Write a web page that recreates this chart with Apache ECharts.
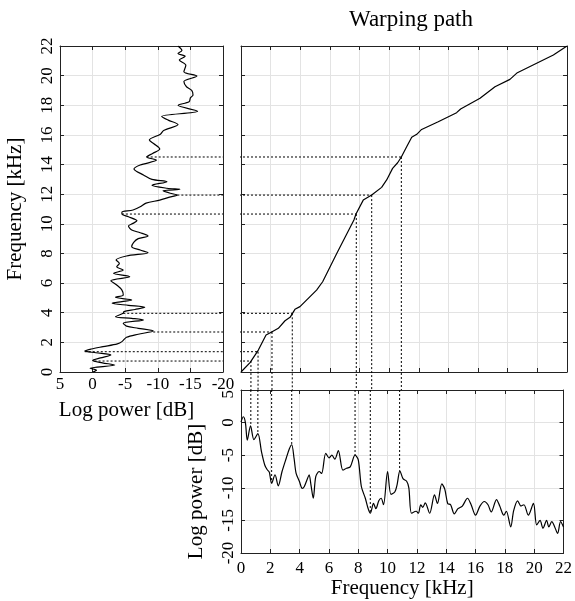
<!DOCTYPE html>
<html><head><meta charset="utf-8">
<script src="https://cdn.jsdelivr.net/npm/echarts@6/dist/echarts.min.js"></script>
<style>html,body{margin:0;padding:0;background:#fff}#c{width:575px;height:601px}</style>
</head><body><div id="c"></div>
<script>
// ---- data ----
const freqTickStep = 2;      // kHz
const powerTickStep = 5;     // dB

// left spectrum (target): frequency [kHz] vs log power [dB]
const leftFreq = [0.00,0.12,0.25,0.47,0.62,0.78,0.95,1.15,1.30,1.42,1.55,1.71,1.90,2.05,2.34,2.55,2.77,2.95,3.10,3.29,3.51,3.62,3.73,3.96,4.07,4.22,4.37,4.50,4.64,4.75,4.86,5.04,5.20,5.53,5.87,6.16,6.43,6.66,6.88,7.10,7.33,7.56,7.83,8.05,8.23,8.45,8.75,9.00,9.18,9.40,9.58,9.85,10.03,10.20,10.48,10.66,10.80,10.93,11.15,11.40,11.60,11.80,11.94,12.06,12.23,12.33,12.40,12.60,12.84,13.00,13.30,13.70,13.97,14.30,14.51,14.75,15.05,15.40,15.65,16.05,16.30,16.70,17.00,17.25,17.60,18.00,18.24,18.50,18.70,19.00,19.25,19.60,19.97,20.26,20.70,21.05,21.30,21.50,21.70,22.00];
const leftPower = [0.0,-0.6,0.4,-3.4,-1.5,0.0,-1.2,-2.8,-0.5,1.2,0.2,-1.6,-3.8,-4.5,-5.2,-7.0,-9.3,-7.0,-5.2,-4.7,-7.8,-6.0,-3.5,-4.7,-4.8,-6.5,-8.0,-5.5,-3.0,-4.5,-6.0,-3.5,-4.7,-4.5,-3.7,-2.8,-5.7,-3.2,-4.7,-3.7,-4.1,-3.6,-5.2,-8.5,-7.3,-6.0,-6.3,-7.0,-8.5,-7.3,-6.0,-5.5,-6.2,-6.8,-5.5,-4.5,-4.5,-6.2,-7.3,-8.2,-10.3,-11.8,-13.0,-11.9,-10.8,-13.4,-11.4,-9.1,-11.4,-9.1,-7.8,-6.35,-7.3,-9.8,-8.3,-9.2,-10.3,-9.4,-8.7,-10.4,-10.9,-13.1,-11.6,-10.6,-16.1,-13.1,-14.8,-15.0,-15.4,-15.2,-14.4,-14.0,-16.0,-14.0,-14.3,-13.3,-14.2,-13.1,-13.7,-13.1];

// bottom spectrum (source): frequency [kHz] vs log power [dB]
const bottomFreq = [0.00,0.16,0.30,0.43,0.65,0.88,1.15,1.40,1.62,1.78,1.93,2.09,2.32,2.54,2.80,3.08,3.30,3.46,3.62,3.76,3.98,4.18,4.32,4.55,4.65,4.77,4.93,5.10,5.33,5.50,5.78,6.00,6.20,6.40,6.64,6.95,7.20,7.45,7.78,8.00,8.21,8.48,8.66,8.82,9.04,9.20,9.40,9.56,9.72,10.00,10.23,10.50,10.65,10.84,11.05,11.30,11.45,11.63,11.95,12.10,12.26,12.40,12.57,12.87,13.20,13.40,13.70,13.90,14.10,14.30,14.55,14.80,15.10,15.45,15.70,16.00,16.30,16.60,16.85,17.07,17.43,17.65,17.93,18.10,18.40,18.60,18.87,19.10,19.30,19.60,19.95,20.17,20.40,20.60,20.85,21.00,21.20,21.40,21.60,21.80,22.00];
const bottomPower = [0.1,0.9,0.0,-2.7,-0.5,-2.6,-1.7,-4.5,-6.5,-7.2,-7.6,-9.3,-8.0,-9.7,-7.5,-5.5,-4.0,-3.4,-5.5,-7.8,-9.0,-10.1,-9.8,-8.5,-8.0,-9.5,-11.6,-8.3,-7.5,-7.8,-4.7,-5.4,-5.0,-5.6,-4.3,-7.3,-7.0,-6.8,-5.0,-5.7,-9.8,-11.6,-13.1,-13.9,-12.4,-13.2,-12.0,-11.6,-12.6,-7.5,-11.0,-10.6,-9.5,-7.4,-8.6,-9.0,-10.0,-13.9,-13.6,-13.9,-12.6,-13.0,-12.3,-13.9,-11.1,-12.4,-9.4,-10.2,-12.4,-12.6,-14.0,-13.2,-12.8,-11.6,-12.6,-14.2,-12.8,-12.1,-12.6,-13.7,-11.8,-12.8,-14.2,-13.6,-16.0,-13.5,-12.0,-12.8,-12.6,-14.2,-12.4,-15.7,-15.0,-16.2,-15.0,-16.0,-15.2,-16.0,-17.0,-15.2,-16.0];

// warping path: source frequency -> target frequency [kHz]
const pathSrc = [0.00,0.61,1.17,1.69,2.07,2.52,2.97,3.31,3.64,3.98,5.10,5.51,6.46,7.62,7.76,8.25,8.82,9.49,9.83,10.23,10.57,10.82,11.18,11.52,11.86,12.19,13.31,14.55,14.82,16.13,17.14,18.15,18.65,21.08,22.00];
const pathTgt = [0.00,0.63,1.48,2.50,2.70,2.95,3.46,3.69,4.23,4.41,5.53,6.09,8.00,10.26,10.66,11.60,11.94,12.46,12.96,13.74,14.12,14.51,15.20,15.84,16.04,16.37,16.89,17.50,17.75,18.47,19.25,19.75,20.20,21.39,22.00];

// matched peaks linked by dotted lines
const linkSrcFreq  = [0.67,1.15,2.09,3.46,7.78,8.82,10.82];
const linkTgtFreq  = [0.74,1.37,2.70,3.96,10.66,11.94,14.51];
const linkSrcPower = [-0.4,-1.7,-9.3,-3.4,-5.0,-13.9,-7.4];
const linkTgtPower = [-0.3,1.2,-9.3,-4.7,-4.5,-13.0,-8.3];

// ---- layout ----
const G = {
  left:   {x:60,  y:46,  w:163, h:326},
  main:   {x:241, y:46,  w:326, h:326},
  bottom: {x:241, y:390, w:326, h:163}
};
const FMAX = 22, PMIN = -20, PMAX = 5;
const pxPerKHz = G.main.w / FMAX;
const gapX = (G.main.x - (G.left.x + G.left.w)) / pxPerKHz;
const gapY = (G.bottom.y - (G.main.y + G.main.h)) / pxPerKHz;

const FONT = 'Liberation Serif';
const lineCol = '#222';
const gridCol = '#e3e3e3';
const NAME_SIZE = 21;

function ax(opts) {
  return Object.assign({
    type: 'value',
    axisLine: {show: true, onZero: false, lineStyle: {color: lineCol, width: 1}},
    axisTick: {show: true, inside: true, length: 4, lineStyle: {color: lineCol}},
    splitLine: {show: false},
    axisLabel: {show: false, color: '#000', fontFamily: FONT, fontSize: 17},
    nameTextStyle: {color: '#000', fontFamily: FONT, fontSize: NAME_SIZE},
    nameLocation: 'middle'
  }, opts);
}
const freqAx = (o) => ax(Object.assign({min: 0, max: FMAX, interval: freqTickStep}, o));
const powAx = (o) => ax(Object.assign({min: PMIN, max: PMAX, interval: powerTickStep}, o));
const split = {show: true, lineStyle: {color: gridCol, width: 1}};

const xAxis = [
  powAx({gridIndex: 0, position: 'bottom', inverse: true, splitLine: split,
    axisLabel: {show: true, color: '#000', fontFamily: FONT, fontSize: 17, margin: 4},
    name: 'Log power [dB]', nameGap: 28,
    nameTextStyle: {color: '#000', fontFamily: FONT, fontSize: NAME_SIZE, padding: [0, 30, 0, 0]}}),
  powAx({gridIndex: 0, position: 'top', inverse: true}),
  freqAx({gridIndex: 1, position: 'bottom', splitLine: split}),
  freqAx({gridIndex: 1, position: 'top'}),
  freqAx({gridIndex: 2, position: 'bottom', splitLine: split,
    axisLabel: {show: true, color: '#000', fontFamily: FONT, fontSize: 17, margin: 7},
    name: 'Frequency [kHz]', nameGap: 25}),
  freqAx({gridIndex: 2, position: 'top'})
];
const yAxis = [
  freqAx({gridIndex: 0, position: 'left', splitLine: split,
    axisLabel: {show: true, rotate: 90, color: '#000', fontFamily: FONT, fontSize: 17, margin: 4},
    name: 'Frequency [kHz]', nameGap: 34}),
  freqAx({gridIndex: 0, position: 'right'}),
  freqAx({gridIndex: 1, position: 'left', splitLine: split}),
  freqAx({gridIndex: 1, position: 'right'}),
  powAx({gridIndex: 2, position: 'left', splitLine: split,
    axisLabel: {show: true, rotate: 90, color: '#000', fontFamily: FONT, fontSize: 17, margin: 4, alignMaxLabel: 'right'},
    name: 'Log power [dB]', nameGap: 34,
    nameTextStyle: {color: '#000', fontFamily: FONT, fontSize: NAME_SIZE, padding: [0, 40, 0, 0]}}),
  powAx({gridIndex: 2, position: 'right'})
];

const solid = {color: '#000', width: 1.2};
const dotted = {color: '#000', width: 1, type: [2, 2]};
const series = [];
function line(xi, yi, data, style, clip, smooth) {
  series.push({type: 'line', xAxisIndex: xi, yAxisIndex: yi, data: data, showSymbol: false,
    symbol: 'none', lineStyle: style, clip: clip, smooth: smooth || false,
    animation: false, silent: true, z: 3});
}
line(0, 0, leftFreq.map((f, i) => [leftPower[i], f]), solid, true, 0.3);
line(2, 2, pathSrc.map((f, i) => [f, pathTgt[i]]), solid, true);
line(4, 4, bottomFreq.map((f, i) => [f, bottomPower[i]]), solid, true, 0.3);
linkSrcFreq.forEach((sf, i) => {
  const tf = linkTgtFreq[i];
  // horizontal: left spectrum -> warping path
  line(0, 0, [[linkTgtPower[i], tf], [PMIN, tf]], dotted, true);
  line(2, 2, [[-gapX, tf], [sf, tf]], dotted, false);
  // vertical: warping path -> bottom spectrum
  line(2, 2, [[sf, tf], [sf, -gapY]], dotted, false);
  line(4, 4, [[sf, PMAX], [sf, linkSrcPower[i]]], dotted, true);
});

const chart = echarts.init(document.getElementById('c'), null, {renderer: 'canvas'});
chart.setOption({
  backgroundColor: '#fff',
  animation: false,
  title: {text: 'Warping path', left: G.main.x + G.main.w / 2 + 2, top: 3, textAlign: 'center',
    textStyle: {fontFamily: FONT, fontSize: 23, fontWeight: 'normal', color: '#000'}},
  grid: [
    {left: G.left.x, top: G.left.y, width: G.left.w, height: G.left.h},
    {left: G.main.x, top: G.main.y, width: G.main.w, height: G.main.h},
    {left: G.bottom.x, top: G.bottom.y, width: G.bottom.w, height: G.bottom.h}
  ],
  xAxis: xAxis,
  yAxis: yAxis,
  series: series
});
</script></body></html>
